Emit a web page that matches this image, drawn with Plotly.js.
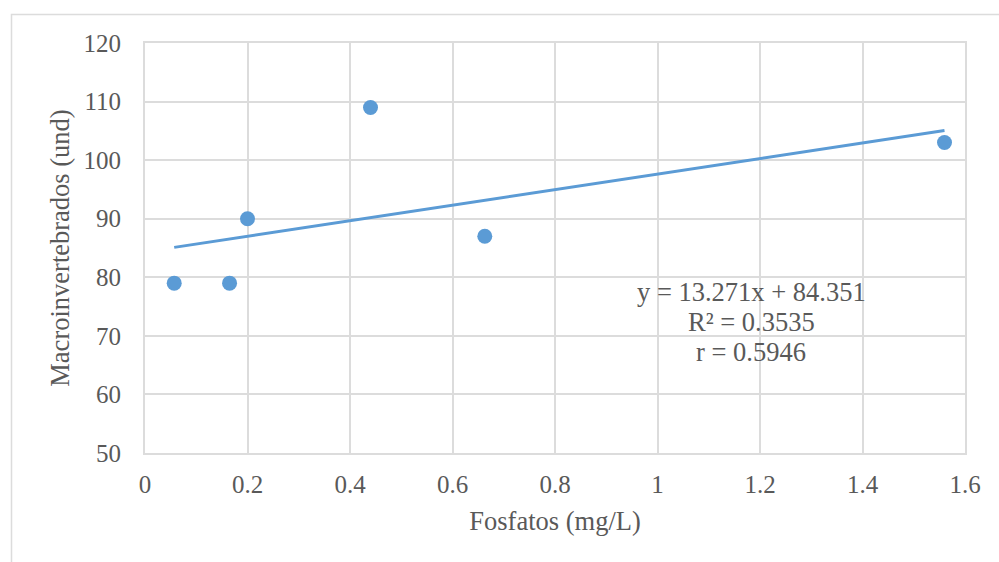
<!DOCTYPE html>
<html>
<head>
<meta charset="utf-8">
<script src="https://cdn.plot.ly/plotly-3.0.1.min.js"></script>
<style>
html,body{margin:0;padding:0;background:#fff;}
#chart{width:999px;height:562px;}
</style>
</head>
<body>
<div id="chart"></div>
<script>
const fosfatos = [0.057, 0.165, 0.2, 0.44, 0.663, 1.56];
const macro = [79, 79, 90, 109, 87, 103];
const slope = 13.271;
const intercept = 84.351;
const eqLines = ["y = 13.271x + 84.351", "R² = 0.3535", "r = 0.5946"];
const eqLineY = [77.49, 72.37, 67.24];
const eqX = 1.183;
const xTicks = [0, 0.2, 0.4, 0.6, 0.8, 1, 1.2, 1.4, 1.6];
const yTicks = [50, 60, 70, 80, 90, 100, 110, 120];

const xMin = Math.min(...fosfatos), xMax = Math.max(...fosfatos);
const trendX = [xMin, xMax];
const trendY = trendX.map(v => slope * v + intercept);

const blue = '#5b9bd5';
const txt = '#595959';
const grid = '#dcdcdc';
const fnt = '"Liberation Serif", "Times New Roman", serif';

const data = [
  {x: fosfatos, y: macro, type: 'scatter', mode: 'markers',
   marker: {color: blue, size: 15}, hoverinfo: 'skip'},
  {x: trendX, y: trendY, type: 'scatter', mode: 'lines',
   line: {color: blue, width: 3}, hoverinfo: 'skip'}
];

const layout = {
  width: 999, height: 562,
  margin: {l: 145, r: 34, t: 43, b: 109},
  paper_bgcolor: '#fff', plot_bgcolor: '#fff',
  showlegend: false,
  font: {family: fnt, color: txt, size: 25},
  xaxis: {
    range: [0, 1.6], tickvals: xTicks, ticktext: xTicks.map(String),
    showgrid: true, gridcolor: grid, gridwidth: 2,
    showline: true, linecolor: grid, linewidth: 2, mirror: true,
    zeroline: false, ticks: '', ticklen: 0, ticklabelstandoff: 8,
    tickfont: {family: fnt, color: txt, size: 25},
    title: {text: 'Fosfatos (mg/L)', font: {family: fnt, color: txt, size: 26.5}, standoff: 14}
  },
  yaxis: {
    range: [50, 120], tickvals: yTicks, ticktext: yTicks.map(String),
    showgrid: true, gridcolor: grid, gridwidth: 2,
    showline: true, linecolor: grid, linewidth: 2, mirror: true,
    zeroline: false, ticks: '', ticklen: 0, ticklabelstandoff: 17,
    tickfont: {family: fnt, color: txt, size: 25},
    title: {text: 'Macroinvertebrados (und)', font: {family: fnt, color: txt, size: 26.5}, standoff: 6}
  },
  annotations: eqLines.map((t, i) => ({
    xref: 'x', yref: 'y', x: eqX, y: eqLineY[i],
    text: t, showarrow: false,
    align: 'center', xanchor: 'center', yanchor: 'middle',
    font: {family: fnt, color: txt, size: 26.5}
  })),
  shapes: [{
    type: 'rect', xref: 'paper', yref: 'paper',
    x0: (11.5 - 145) / 820, x1: (1005 - 145) / 820,
    y0: -(570 - 453) / 410, y1: 1 + (43 - 14.5) / 410,
    line: {color: grid, width: 1.5}, fillcolor: 'rgba(0,0,0,0)', layer: 'below'
  }]
};

Plotly.newPlot('chart', data, layout, {staticPlot: true, displayModeBar: false});
</script>
</body>
</html>
